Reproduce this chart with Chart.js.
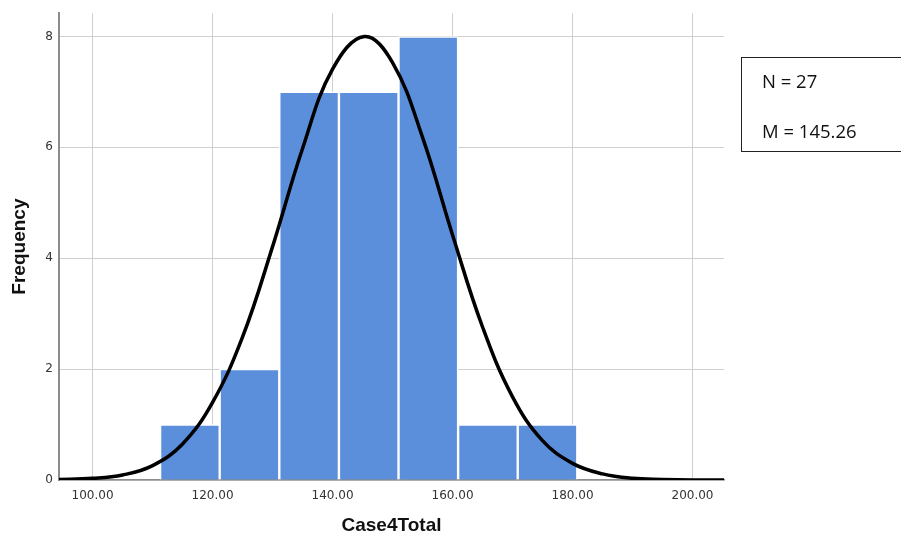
<!DOCTYPE html>
<html>
<head>
    <title>Case4Total histogram</title>
    <script src="https://cdn.jsdelivr.net/npm/chart.js"></script>
    <style>
        body { margin: 0; background: #fff; }
        #wrap { position: relative; width: 901px; height: 540px; overflow: hidden; }
        #statsBox {
            position: absolute; left: 741px; top: 57px; width: 180px; height: 95px;
            border: 1px solid #222; box-sizing: border-box;
            font-family: "Open Sans", sans-serif; font-size: 18.5px; color: #111;
        }
        #statsBox div { position: absolute; left: 20px; line-height: 1; white-space: nowrap; }
    </style>
</head>
<body>
    <div id="wrap">
        <canvas id="histChart" width="901" height="540"></canvas>
        <div id="statsBox">
            <div style="top: 14px">N = 27</div>
            <div style="top: 64px">M = 145.26</div>
        </div>
    </div>

    <script>
        // histogram bins (centres) and counts
        const binCenters = [116.22, 126.15, 136.09, 146.03, 155.96, 165.90, 175.83];
        const frequencies = [1, 2, 7, 7, 8, 1, 1];

        // normal curve, points
        const curveX = [94, 100, 105, 110, 115, 120, 125, 130, 135, 140, 145.3, 150, 155, 160, 165, 170, 175, 180, 185, 190, 195, 200, 206];
        const curveY = [0.01, 0.03, 0.09, 0.26, 0.65, 1.40, 2.58, 4.21, 5.98, 7.41, 8.00, 7.53, 6.18, 4.42, 2.76, 1.50, 0.71, 0.30, 0.11, 0.03, 0.01, 0.00, 0.00];

        // axis ticks
        const xTickValues = [100, 120, 140, 160, 180, 200];
        const yTickValues = [0, 2, 4, 6, 8];

        const tickFont = { family: '"DejaVu Sans", sans-serif', size: 12 };
        const titleFont = { family: '"Liberation Sans", Arial, sans-serif', size: 19, weight: 'bold' };

        var ctx = document.getElementById('histChart').getContext('2d');
        var histChart = new Chart(ctx, {
            type: 'bar',
            data: {
                datasets: [
                    {
                        type: 'line',
                        data: curveX.map((x, i) => ({ x: x, y: curveY[i] })),
                        borderColor: '#000',
                        borderWidth: 3.5,
                        pointRadius: 0,
                        tension: 0.4,
                        fill: false,
                        order: 0
                    },
                    {
                        type: 'bar',
                        data: binCenters.map((x, i) => ({ x: x, y: frequencies[i] })),
                        backgroundColor: '#5b8fdc',
                        borderColor: '#ffffff',
                        borderWidth: 1.5,
                        barPercentage: 1,
                        categoryPercentage: 1,
                        order: 1
                    }
                ]
            },
            options: {
                responsive: false,
                animation: false,
                layout: { padding: { left: 0, top: 12, right: 177, bottom: 0 } },
                plugins: {
                    legend: { display: false },
                    tooltip: { enabled: false }
                },
                scales: {
                    x: {
                        type: 'linear',
                        min: 94.4,
                        max: 205.25,
                        offset: false,
                        afterFit: s => { s.height = 60; },
                        afterBuildTicks: s => { s.ticks = xTickValues.map(v => ({ value: v })); },
                        grid: { color: '#cfcfcf', lineWidth: 1, drawTicks: false, offset: false },
                        border: { color: '#8c8c8c', width: 1.5 },
                        ticks: {
                            font: tickFont,
                            color: '#333',
                            padding: 9,
                            maxRotation: 0,
                            callback: v => v.toFixed(2)
                        },
                        title: {
                            display: true,
                            text: 'Case4Total',
                            font: titleFont,
                            color: '#111',
                            padding: { top: 0, bottom: 3 }
                        }
                    },
                    y: {
                        min: 0,
                        max: 8.42,
                        afterFit: s => { s.width = 59; },
                        afterBuildTicks: s => { s.ticks = yTickValues.map(v => ({ value: v })); },
                        grid: { color: '#cfcfcf', lineWidth: 1, drawTicks: false },
                        border: { color: '#8c8c8c', width: 2 },
                        ticks: {
                            font: tickFont,
                            color: '#333',
                            padding: 6
                        },
                        title: {
                            display: true,
                            text: 'Frequency',
                            font: titleFont,
                            color: '#111',
                            padding: { top: 8, bottom: 0 }
                        }
                    }
                }
            }
        });
    </script>
</body>
</html>
